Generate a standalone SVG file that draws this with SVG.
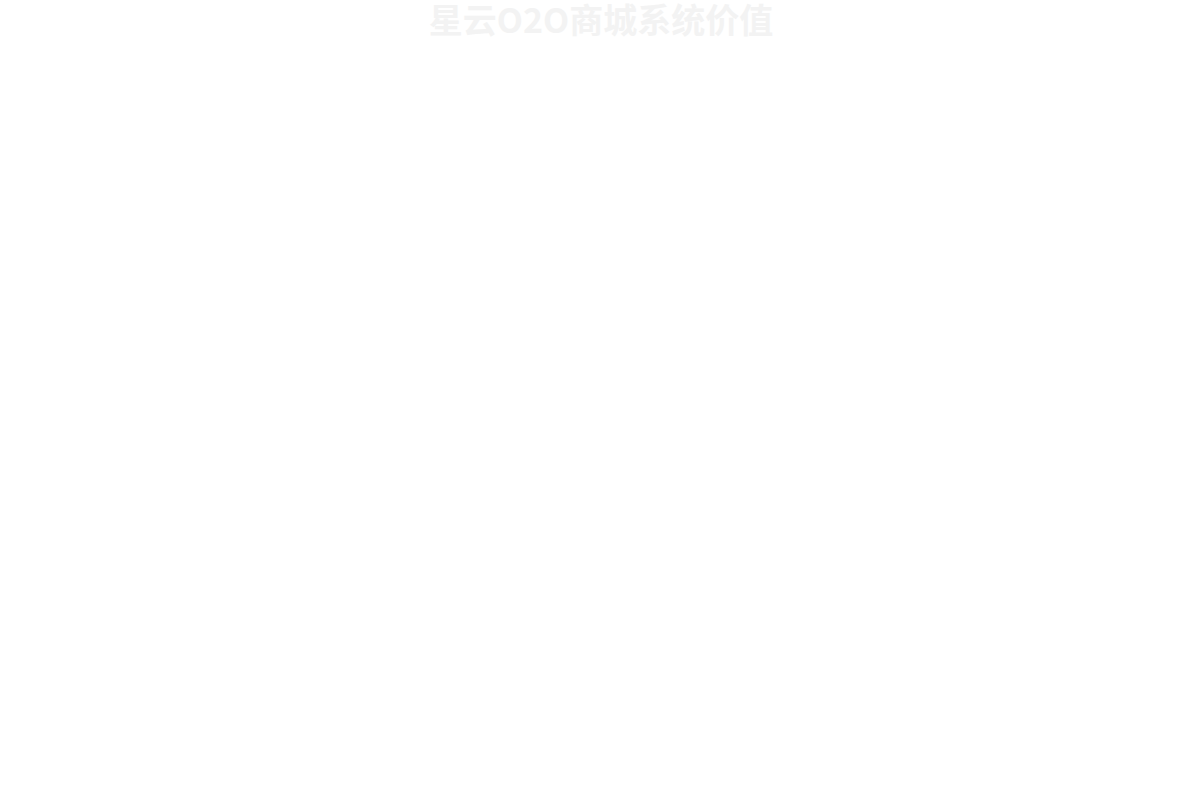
<svg xmlns="http://www.w3.org/2000/svg" width="1200" height="803" viewBox="0 0 1200 803">
<style>
.title{font-family:"Noto Sans CJK SC","Noto Sans",sans-serif;font-size:34px;font-weight:bold;fill:#f3f3f3;}
</style>
<rect x="0" y="0" width="1200" height="803" fill="#ffffff"/>
<g id="title">
<text class="title" x="601" y="33" text-anchor="middle">星云O2O商城系统价值</text>
</g>
<g id="connectors"></g>
</svg>
